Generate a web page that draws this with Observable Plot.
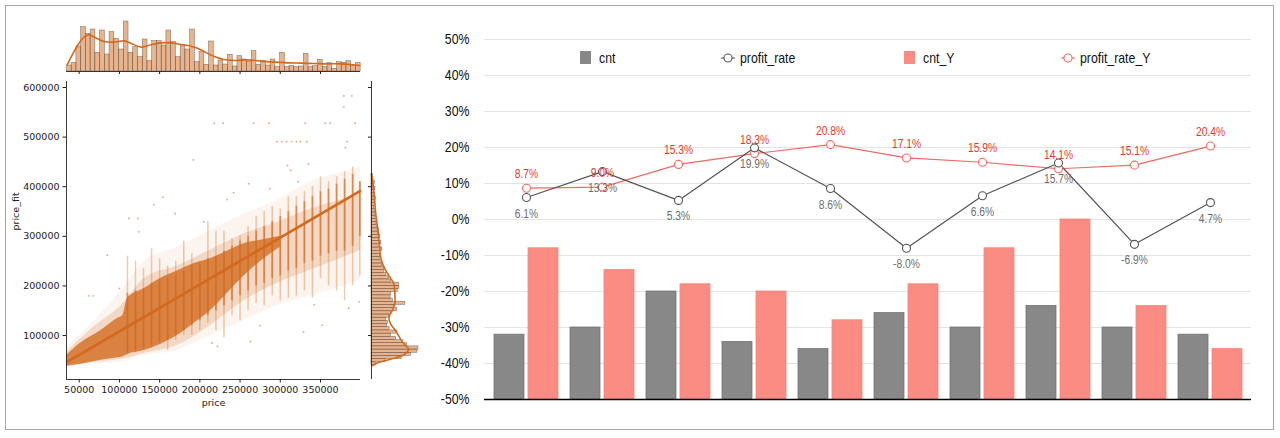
<!DOCTYPE html>
<html><head><meta charset="utf-8">
<script src="https://cdn.jsdelivr.net/npm/d3@7"></script>
<script src="https://cdn.jsdelivr.net/npm/@observablehq/plot@0.6"></script>
<style>
body{margin:0;background:#fff;}
#root{position:relative;width:1280px;height:438px;overflow:hidden;background:#fff;}
.pane{position:absolute;}
#frame{position:absolute;left:5px;top:5px;width:1267px;height:423px;border:1.5px solid #a8a8a8;}
#legend{position:absolute;left:0;top:49px;width:1280px;height:17px;
  font-family:"Liberation Sans",Arial,sans-serif;font-size:15px;color:#111;line-height:17px;}
#legend .it{position:absolute;top:0;display:flex;align-items:center;height:17px;white-space:nowrap;}
#legend .sw{display:inline-block;width:11px;height:13px;margin-right:8px;}
#legend svg{margin-right:5px;}
#legend .tx{display:inline-block;transform:scaleX(0.82);transform-origin:left center;}
</style></head>
<body>
<div id="root">
  <div id="frame"></div>
  <div id="main" class="pane" style="left:0;top:0;width:430px;height:438px;"></div>
  <div id="tophist" class="pane" style="left:0;top:0;width:430px;height:80px;"></div>
  <div id="righthist" class="pane" style="left:360px;top:0;width:70px;height:438px;"></div>
  <div id="combo" class="pane" style="left:430px;top:0;width:850px;height:438px;"></div>
  <div id="legend"></div>
</div>
<script>
// ---------------- Left panel: jointplot data ----------------
const priceDomain = [34200, 399750];
const fitDomain = [11400, 612100];
const priceTicks = [50000, 100000, 150000, 200000, 250000, 300000, 350000];
const fitTicks = [100000, 200000, 300000, 400000, 500000, 600000];

// top marginal histogram (price)
const topBinStart = 34740;
const topBinWidth = 5890;
const topCounts = [18,26,75,133,113,126,56,123,51,118,98,66,150,56,73,43,96,31,91,91,78,123,88,43,80,66,126,28,58,20,90,18,33,21,50,15,46,36,28,61,20,31,18,36,13,56,13,16,13,15,53,13,16,35,13,25,8,28,26,31,18,25];
const topKdeX = [35000,48000,56000,62000,73000,81000,93000,106000,114000,127000,139000,151000,164000,176000,189000,197000,205000,218000,230000,246000,259000,275000,292000,309000,325000,342000,358000,375000,387000,399000];
const topKdeY = [20,78,103,110,98,90,88,92,85,73,80,86,86,81,76,70,60,45,36,33,35,31,28,26,25,24,23,23,21,18];

// right marginal histogram (price_fit)
const rightBinStart = 39600;
const rightBinWidth = 6428;
const rightCounts = [13,43,93,120,140,143,108,95,75,60,78,55,48,50,45,55,60,78,70,103,65,58,60,80,85,83,60,53,45,38,40,33,28,25,27,22,33,25,30,22,27,20,23,17,15,17,12,10,12,8,10,7,13,10,8,12,8,10,6,4];
const rightKdeY = [425300,385100,344900,304600,277700,257600,237500,220700,204000,183900,163800,150300,136800,123500,110100,93400,79900,73200,63200,53100,46300,39600];
const rightKdeW = [0,8,13,21,25,28,38,53,68,71,71,63,53,58,73,88,103,113,103,63,23,3];

// scatter cloud, read as density bands
const haloX  = [34200, 69000, 102000, 131000, 172000, 213000, 255000, 296000, 338000, 379000, 399750];
const haloLo = [36000, 42000, 46000, 60000, 70000, 100000, 130000, 160000, 180000, 200000, 212000];
const haloHi = [76000, 130000, 190000, 250000, 278000, 312000, 345000, 372000, 410000, 430000, 440000];
const midLo  = [38000, 46000, 52000, 64000, 80000, 120000, 170000, 205000, 232000, 258000, 272000];
const midHi  = [66000, 118000, 160000, 215000, 240000, 272000, 305000, 328000, 355000, 375000, 388000];
const coreX  = [34200, 52000, 77000, 98000, 104000, 110000, 131000, 151000, 172000, 193000, 213000, 234000, 255000, 276000, 300000];
const coreLo = [38000, 42000, 50000, 55000, 57000, 62000, 70000, 82000, 100000, 125000, 150000, 185000, 220000, 250000, 278000];
const coreHi = [60000, 85000, 110000, 135000, 140000, 175000, 195000, 215000, 230000, 245000, 255000, 270000, 285000, 292000, 300000];
// vertical streaks at round prices: full extent and dense part
const streakX  = [110000,120000,130000,140000,150000,160000,170000,180000,190000,200000,210000,220000,230000,240000,250000,260000,270000,280000,290000,300000,310000,320000,330000,340000,350000,360000,370000,380000,390000,399000];
const streakLo = [60000,65000,72000,75000,85000,70000,90000,100000,100000,110000,125000,110000,95000,140000,130000,150000,165000,160000,180000,170000,175000,180000,190000,175000,215000,200000,190000,170000,200000,220000];
const streakHi = [260000,250000,235000,275000,255000,240000,250000,290000,265000,250000,330000,310000,310000,295000,300000,320000,340000,350000,360000,355000,380000,380000,390000,400000,420000,410000,420000,430000,440000,410000];
const denseLo  = [65000,70000,75000,80000,85000,90000,100000,110000,120000,130000,140000,150000,160000,170000,180000,190000,200000,205000,215000,220000,230000,235000,245000,250000,260000,265000,270000,270000,280000,300000];
const denseHi  = [185000,190000,195000,205000,210000,215000,220000,230000,240000,245000,255000,260000,270000,280000,290000,300000,310000,320000,330000,340000,350000,360000,370000,380000,390000,395000,405000,415000,425000,410000];
// isolated points
const outX = [379000,389000,379000,218000,229000,267000,286000,331000,356000,362000,393000,296000,302000,308000,314000,320000,325000,333000,192000,381000,383000,309000,313000,154000,242000,143000,112000,123000,85000,62000,67000,100000,263000,222000,215000,275000,329000,352000,342000,385000,398000,335000,322000,287000,261000,234000,205000,169000,124000];
const outY = [583000,583000,561000,528000,528000,528000,528000,528000,528000,528000,528000,491000,491000,491000,491000,491000,491000,491000,454000,479000,491000,443000,433000,379000,388000,364000,336000,336000,262000,180000,180000,195000,88000,78000,85000,120000,107000,121000,162000,155000,168000,446000,410000,396000,406000,374000,329000,346000,309000];
// fitted regression line
const regX = [35000, 399000];
const regY = [47000, 391000];

// ---------------- Right panel: combo chart data ----------------
const categories = ["g1","g2","g3","g4","g5","g6","g7","g8","g9","g10"];
const cnt         = [-32,-30,-20,-34,-36,-26,-30,-24,-30,-32];
const cntY        = [-8,-14,-18,-20,-28,-18,-8,0,-24,-36];
const profitRate  = [6.1,13.3,5.3,19.9,8.6,-8.0,6.6,15.7,-6.9,4.7];
const profitRateY = [8.7,9.0,15.3,18.3,20.8,17.1,15.9,14.1,15.1,20.4];
const pctTicks = [-50,-40,-30,-20,-10,0,10,20,30,40,50];
const seriesNames = ["cnt","profit_rate","cnt_Y","profit_rate_Y"];

// ---------------- colours ----------------
const choc = "#d2691e";
const gBar = "#888888", rBar = "#fa8c83", gLine = "#555555", rLine = "#f26a61";
const gLabel = "#6e6e6e", rLabel = "#e5382e";
const sans = '"Liberation Sans",Arial,sans-serif';
const leftStyle = {fontFamily: '"DejaVu Sans", sans-serif', fontSize: "9.5px", background: "transparent", color: "#222", overflow: "visible"};

const zip = (xs, ...cols) => xs.map((x, i) => [x, ...cols.map(c => c[i])]);
const fmt = d3.format("d");

// main scatter
const halo = zip(haloX, haloLo, haloHi).map(([x, lo, hi]) => ({x, lo, hi}));
const mid = zip(haloX, midLo, midHi).map(([x, lo, hi]) => ({x, lo, hi}));
const core = zip(coreX, coreLo, coreHi).map(([x, lo, hi]) => ({x, lo, hi}));
const streaks = zip(streakX, streakLo, streakHi, denseLo, denseHi).map(([x, lo, hi, dlo, dhi]) => ({x, lo, hi, dlo, dhi}));
const outs = zip(outX, outY).map(([x, y]) => ({x, y}));
const reg = zip(regX, regY).map(([x, y]) => ({x, y}));

document.getElementById("main").append(Plot.plot({
  width: 430, height: 438, marginLeft: 66, marginRight: 70, marginTop: 81, marginBottom: 59,
  style: leftStyle,
  x: {domain: priceDomain},
  y: {domain: fitDomain},
  marks: [
    Plot.areaY(halo, {x: "x", y1: "lo", y2: "hi", fill: choc, fillOpacity: 0.07, curve: "monotone-x"}),
    Plot.areaY(mid, {x: "x", y1: "lo", y2: "hi", fill: choc, fillOpacity: 0.2, curve: "monotone-x"}),
    Plot.ruleX(streaks, {x: "x", y1: "lo", y2: "hi", stroke: choc, strokeOpacity: 0.35, strokeWidth: 1.5}),
    Plot.ruleX(streaks, {x: "x", y1: "dlo", y2: "dhi", stroke: choc, strokeOpacity: 0.65, strokeWidth: 1.8}),
    Plot.areaY(core, {x: "x", y1: "lo", y2: "hi", fill: choc, fillOpacity: 0.78, curve: "monotone-x"}),
    Plot.dot(outs, {x: "x", y: "y", r: 0.9, fill: choc, fillOpacity: 0.6, stroke: null}),
    Plot.line(reg, {x: "x", y: "y", stroke: choc, strokeWidth: 2.6}),
    Plot.ruleX([priceDomain[0]], {stroke: "#222", strokeWidth: 0.9}),
    Plot.ruleY([fitDomain[0]], {stroke: "#222", strokeWidth: 0.9}),
    Plot.axisX({ticks: priceTicks, tickSize: 3.5, tickPadding: 3, tickFormat: fmt, label: null, stroke: "#222"}),
    Plot.axisY({ticks: fitTicks, tickSize: 3.5, tickPadding: 3.5, tickFormat: fmt, label: null, stroke: "#222"}),
    Plot.text(["price"], {frameAnchor: "bottom", dy: 26, fill: "#222"}),
    Plot.text(["price_fit"], {frameAnchor: "left", dx: -51, rotate: -90, fill: "#222"})
  ]
}));

// top histogram
const topBins = topCounts.map((c, i) => ({x1: topBinStart + i * topBinWidth, x2: topBinStart + (i + 1) * topBinWidth, c}));
const topKde = zip(topKdeX, topKdeY).map(([x, y]) => ({x, y}));
document.getElementById("tophist").append(Plot.plot({
  width: 430, height: 80, marginLeft: 66, marginRight: 70, marginTop: 21, marginBottom: 9,
  style: leftStyle,
  x: {domain: priceDomain},
  y: {domain: [0, 150], axis: null},
  marks: [
    Plot.rectY(topBins, {x1: "x1", x2: "x2", y1: 0, y2: "c", fill: choc, fillOpacity: 0.5, stroke: "#5a4a40", strokeWidth: 0.5, strokeOpacity: 0.8}),
    Plot.line(topKde, {x: "x", y: "y", stroke: choc, strokeWidth: 1.6, curve: "catmull-rom"}),
    Plot.ruleY([0], {stroke: "#222", strokeWidth: 0.9}),
    Plot.axisX({ticks: priceTicks, tickSize: 3, tickFormat: () => "", label: null, stroke: "#222"})
  ]
}));

// right histogram
const rightBins = rightCounts.map((c, i) => ({y1: rightBinStart + i * rightBinWidth, y2: rightBinStart + (i + 1) * rightBinWidth, c}));
const rightKde = zip(rightKdeY, rightKdeW).map(([y, w]) => ({y, w}));
document.getElementById("righthist").append(Plot.plot({
  width: 70, height: 438, marginLeft: 11, marginRight: 12, marginTop: 81, marginBottom: 59,
  style: leftStyle,
  x: {domain: [0, 143], axis: null},
  y: {domain: fitDomain},
  marks: [
    Plot.rectX(rightBins, {y1: "y1", y2: "y2", x1: 0, x2: "c", fill: choc, fillOpacity: 0.5, stroke: "#5a4a40", strokeWidth: 0.5, strokeOpacity: 0.8}),
    Plot.line(rightKde, {x: "w", y: "y", stroke: choc, strokeWidth: 1.6, curve: "catmull-rom"}),
    Plot.ruleX([0], {stroke: "#222", strokeWidth: 0.9}),
    Plot.axisY({ticks: fitTicks, tickSize: 3, tickFormat: () => "", label: null, stroke: "#222"})
  ]
}));

// ---------------- combo chart ----------------
const rows = categories.map((cat, i) => ({cat, cnt: cnt[i], cntY: cntY[i], pr: profitRate[i], prY: profitRateY[i]}));
const base = pctTicks[0];
const combo = Plot.plot({
  width: 850, height: 438, marginLeft: 54, marginRight: 29, marginTop: 39, marginBottom: 39,
  style: {fontFamily: sans, fontSize: "15px", background: "transparent", color: "#111", overflow: "visible"},
  x: {type: "band", domain: categories, padding: 0, axis: null},
  y: {domain: [pctTicks[0], pctTicks[pctTicks.length - 1]]},
  marks: [
    Plot.gridY(pctTicks.slice(1), {stroke: "#e4e4e4", strokeOpacity: 1, strokeWidth: 1}),
    Plot.axisY({ticks: pctTicks, tickSize: 0, tickPadding: 15, tickFormat: d => d + "%", label: null, fontSize: 15}),
    Plot.barY(rows, {x: "cat", y1: base, y2: "cnt", fill: gBar, stroke: "#747474", strokeWidth: 0.8, insetLeft: 6, insetRight: 40}),
    Plot.barY(rows, {x: "cat", y1: base, y2: "cntY", fill: rBar, stroke: "#f7847a", strokeWidth: 0.8, insetLeft: 40, insetRight: 6}),
    Plot.ruleY([base], {stroke: "#000", strokeWidth: 1.6}),
    Plot.line(rows, {x: "cat", y: "prY", stroke: rLine, strokeWidth: 1.2}),
    Plot.line(rows, {x: "cat", y: "pr", stroke: gLine, strokeWidth: 1.2}),
    Plot.dot(rows, {x: "cat", y: "prY", r: 4, fill: "white", stroke: rLine, strokeWidth: 1.1}),
    Plot.dot(rows, {x: "cat", y: "pr", r: 4, fill: "white", stroke: gLine, strokeWidth: 1.1}),
    Plot.text(rows, {x: "cat", y: "pr", text: d => d.pr.toFixed(1) + "%", dy: 16, fill: gLabel, fontSize: 12.5}),
    Plot.text(rows, {x: "cat", y: "prY", text: d => d.prY.toFixed(1) + "%", dy: -14, fill: rLabel, fontSize: 12.5})
  ]
});
document.getElementById("combo").append(combo);
// the reference uses a condensed sans face: narrow the glyphs of the combo chart's texts
combo.querySelectorAll("text").forEach(t => {
  const len = t.getComputedTextLength();
  if (len > 0) {
    t.setAttribute("textLength", (len * 0.82).toFixed(2));
    t.setAttribute("lengthAdjust", "spacingAndGlyphs");
  }
});

// legend
const legend = document.getElementById("legend");
const legendKinds = [
  {kind: "bar", color: gBar, left: 580}, {kind: "line", color: gLine, left: 721},
  {kind: "bar", color: rBar, left: 904}, {kind: "line", color: rLine, left: 1061}
];
seriesNames.forEach((name, i) => {
  const k = legendKinds[i];
  const it = document.createElement("div");
  it.className = "it";
  it.style.left = k.left + "px";
  if (k.kind === "bar") {
    const sw = document.createElement("span");
    sw.className = "sw";
    sw.style.background = k.color;
    it.append(sw);
  } else {
    const ns = "http://www.w3.org/2000/svg";
    const s = document.createElementNS(ns, "svg");
    s.setAttribute("width", 14); s.setAttribute("height", 12);
    const ln = document.createElementNS(ns, "line");
    ln.setAttribute("x1", 0); ln.setAttribute("x2", 14); ln.setAttribute("y1", 6); ln.setAttribute("y2", 6);
    ln.setAttribute("stroke", k.color); ln.setAttribute("stroke-width", 1.1);
    const c = document.createElementNS(ns, "circle");
    c.setAttribute("cx", 7); c.setAttribute("cy", 6); c.setAttribute("r", 4);
    c.setAttribute("fill", "white"); c.setAttribute("stroke", k.color); c.setAttribute("stroke-width", 1.1);
    s.append(ln, c);
    it.append(s);
  }
  const t = document.createElement("span");
  t.className = "tx";
  t.textContent = name;
  it.append(t);
  legend.append(it);
});
</script>
</body></html>
